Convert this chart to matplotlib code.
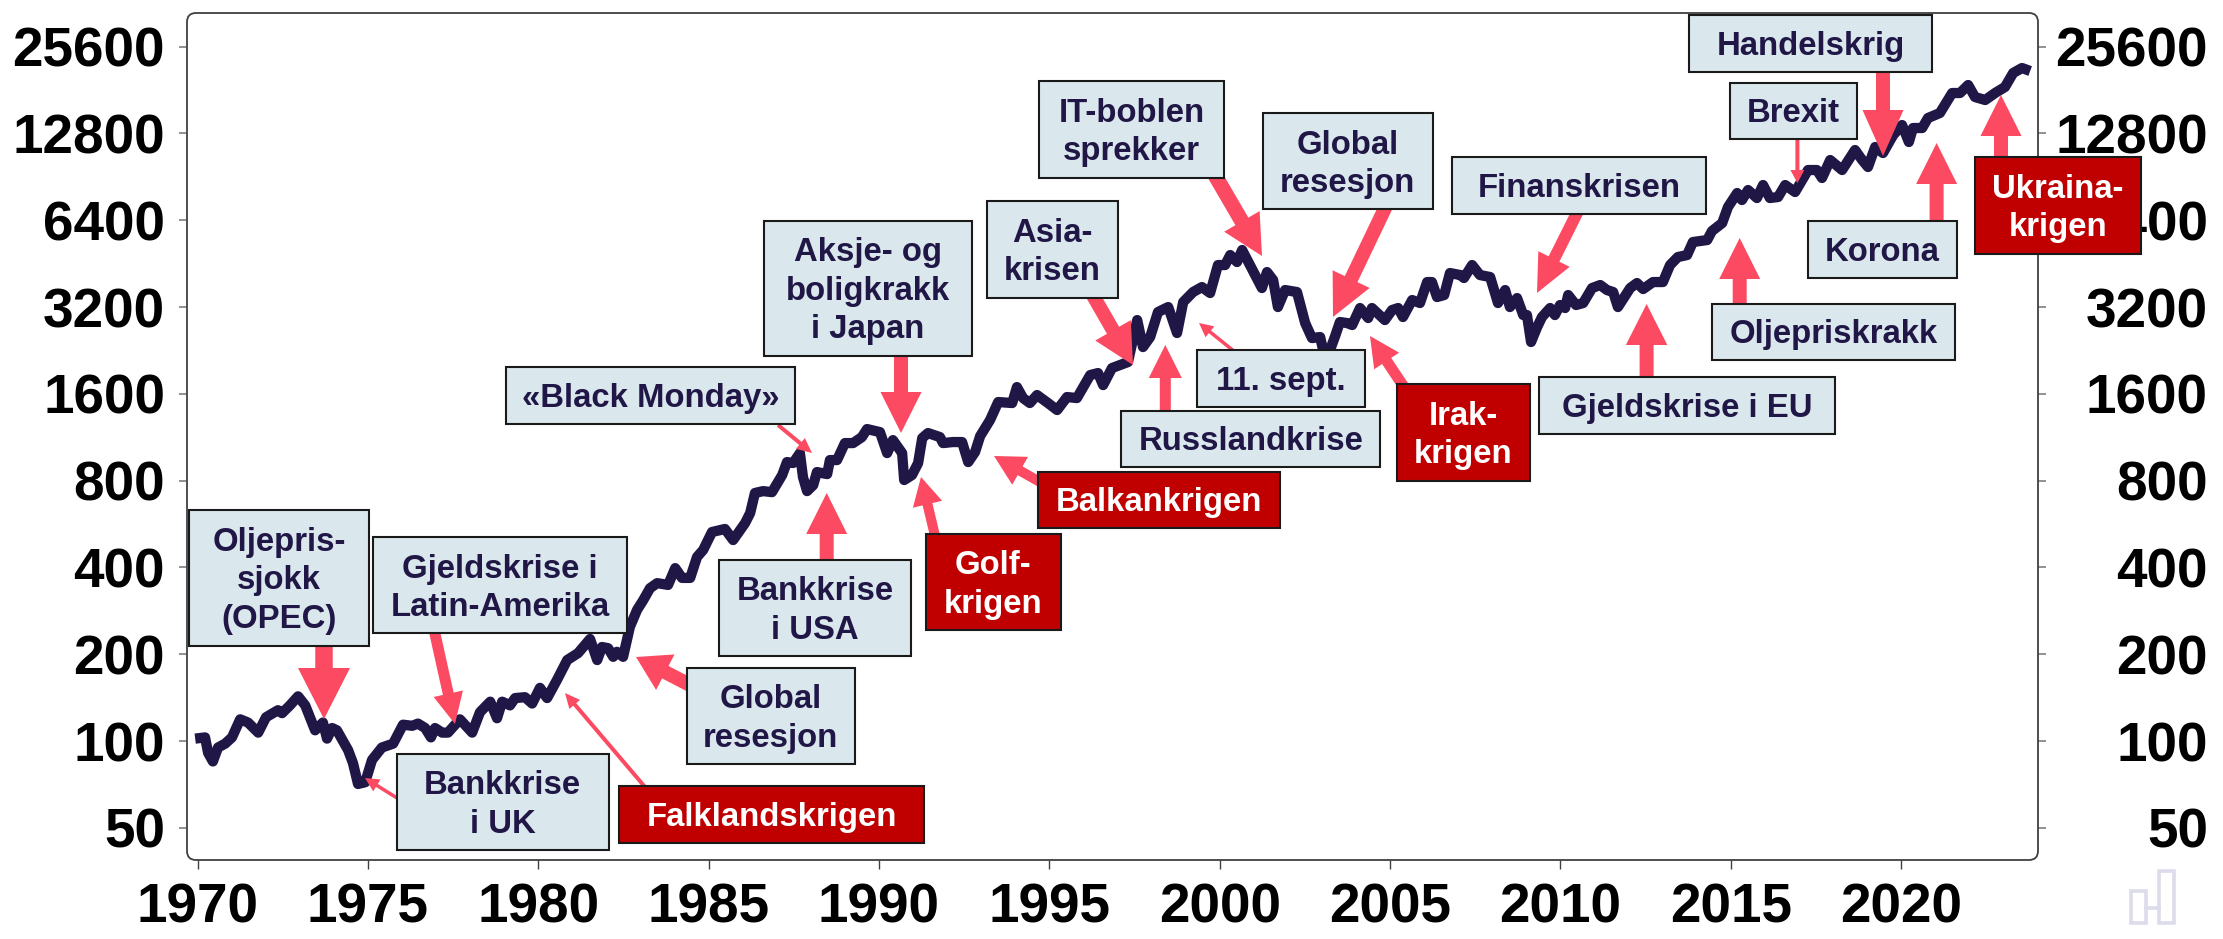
import matplotlib
matplotlib.use("Agg")
from matplotlib import pyplot as plt
from matplotlib.patches import FancyArrow, FancyBboxPatch, Rectangle

plt.rcParams["font.family"] = ["Liberation Sans", "DejaVu Sans"]
plt.rcParams["font.weight"] = "bold"

#index values, log scale base 2
years = [1969.93, 1970.22, 1970.31, 1970.45, 1970.60, 1970.81, 1971.01, 1971.25, 1971.48, 1971.78,
         1972.01, 1972.36, 1972.48, 1972.71, 1972.95, 1973.16, 1973.45, 1973.68, 1973.80, 1973.95,
         1974.09, 1974.42, 1974.56, 1974.71, 1974.92, 1975.12, 1975.41, 1975.74, 1976.03, 1976.30,
         1976.47, 1976.68, 1976.85, 1976.97, 1977.18, 1977.35, 1977.70, 1978.06, 1978.29, 1978.59,
         1978.79, 1978.94, 1979.17, 1979.32, 1979.61, 1979.82, 1980.05, 1980.26, 1980.55, 1980.85,
         1981.17, 1981.52, 1981.73, 1981.87, 1982.05, 1982.20, 1982.31, 1982.49, 1982.69, 1982.90,
         1983.08, 1983.28, 1983.49, 1983.81, 1984.02, 1984.22, 1984.46, 1984.66, 1984.84, 1985.10,
         1985.48, 1985.72, 1986.07, 1986.22, 1986.36, 1986.60, 1986.86, 1987.16, 1987.30, 1987.48,
         1987.68, 1987.77, 1987.89, 1988.07, 1988.18, 1988.48, 1988.56, 1988.77, 1989.00, 1989.24,
         1989.50, 1989.65, 1990.03, 1990.24, 1990.41, 1990.68, 1990.74, 1990.97, 1991.15, 1991.27,
         1991.44, 1991.79, 1991.88, 1992.17, 1992.44, 1992.62, 1992.82, 1992.97, 1993.26, 1993.50,
         1993.91, 1994.05, 1994.23, 1994.43, 1994.64, 1994.96, 1995.23, 1995.52, 1995.81, 1996.20,
         1996.43, 1996.58, 1996.84, 1997.31, 1997.58, 1997.75, 1997.96, 1998.19, 1998.49, 1998.75,
         1998.93, 1999.22, 1999.48, 1999.72, 1999.95, 2000.16, 2000.31, 2000.51, 2000.66, 2000.89,
         2001.24, 2001.39, 2001.57, 2001.71, 2001.92, 2002.27, 2002.51, 2002.71, 2002.95, 2003.09,
         2003.24, 2003.39, 2003.53, 2003.74, 2003.89, 2004.12, 2004.36, 2004.47, 2004.85, 2005.06,
         2005.24, 2005.38, 2005.65, 2005.88, 2006.09, 2006.23, 2006.38, 2006.59, 2006.76, 2007.06,
         2007.17, 2007.41, 2007.64, 2007.94, 2008.17, 2008.38, 2008.52, 2008.73, 2008.91, 2009.02,
         2009.14, 2009.32, 2009.46, 2009.70, 2009.84, 2009.99, 2010.14, 2010.23, 2010.46, 2010.67,
         2010.93, 2011.17, 2011.37, 2011.55, 2011.69, 2012.05, 2012.25, 2012.43, 2012.72, 2013.01,
         2013.22, 2013.45, 2013.72, 2013.89, 2014.31, 2014.45, 2014.75, 2014.92, 2015.19, 2015.33,
         2015.51, 2015.77, 2015.95, 2016.15, 2016.39, 2016.60, 2016.89, 2017.27, 2017.53, 2017.68,
         2017.92, 2018.27, 2018.65, 2018.86, 2019.03, 2019.24, 2019.47, 2019.77, 2020.03, 2020.23,
         2020.35, 2020.62, 2020.79, 2021.14, 2021.50, 2021.73, 2021.97, 2022.17, 2022.47, 2022.76,
         2023.05, 2023.29, 2023.55, 2023.79]
index_values = [102, 103, 91, 85, 95, 98, 103, 119, 116, 107, 121, 128, 125, 133, 143, 133, 109, 116, 102, 111, 109, 93, 84, 71,
                72, 86, 95, 98, 114, 113, 115, 111, 103, 111, 107, 107, 119, 107, 126, 137, 120, 137, 133, 141, 142, 135, 153, 141,
                163, 191, 202, 226, 191, 212, 210, 196, 204, 196, 249, 285, 308, 339, 353, 348, 398, 368, 368, 435, 460, 531, 544, 498,
                570, 618, 725, 736, 730, 837, 928, 921, 997, 823, 736, 772, 857, 843, 943, 943, 1080, 1080, 1133, 1208, 1179, 997, 1106, 997,
                804, 837, 921, 1124, 1170, 1133, 1080, 1089, 1089, 928, 1005, 1142, 1298, 1499, 1487, 1689, 1547, 1487, 1585, 1487, 1406, 1560, 1547, 1859,
                1889, 1716, 1966, 2063, 2884, 2325, 2518, 3075, 3200, 2600, 3330, 3607, 3754, 3579, 4475, 4475, 4847, 4584, 5045, 4475, 3724, 4232, 3970, 3200,
                3665, 3607, 2816, 2498, 2518, 2129, 2270, 2538, 2839, 2816, 2772, 3175, 2931, 3175, 2884, 3124, 3175, 2954, 3384, 3304, 3907, 3907, 3466, 3522,
                4198, 4132, 4034, 4475, 4132, 4066, 3304, 3665, 3200, 3438, 3002, 3002, 2420, 2728, 2954, 3175, 3002, 3252, 3175, 3522, 3252, 3304, 3724, 3815,
                3665, 3607, 3200, 3724, 3876, 3695, 3907, 3907, 4475, 4770, 4847, 5377, 5464, 5871, 6258, 7111, 7953, 7520, 8145, 7641, 8477, 7641, 7703, 8477,
                8016, 9556, 9556, 8965, 10350, 9556, 11211, 10350, 9788, 11483, 10945, 12637, 13688, 11950, 13364, 13364, 14475, 15065, 17673, 17673, 18839, 17118, 16713, 17673,
                18541, 20734, 21579, 21068]
y_ticks = [50, 100, 200, 400, 800, 1600, 3200, 6400, 12800, 25600]
x_ticks = [1970, 1975, 1980, 1985, 1990, 1995, 2000, 2005, 2010, 2015, 2020]

LINE_COLOR = "#201747"
ARROW_COLOR = "#fb4a61"
BOX_COLOR = "#dae7ec"
RED_COLOR = "#c00000"
W, H = 2223, 939

fig = plt.figure(figsize=(W / 100, H / 100), dpi=100)
ax = fig.add_axes([187 / W, (H - 860) / H, (2038 - 187) / W, (860 - 13) / H])
ax.plot(years, index_values, color=LINE_COLOR, lw=7.4, solid_joinstyle="round", solid_capstyle="butt")
ax.set_yscale("log", base=2)
ax.set_xlim(1969.69, 2024.02)
ax.set_ylim(38.7, 33480)
ax.set_yticks(y_ticks)
ax.set_yticklabels([str(t) for t in y_ticks])
ax.minorticks_off()
ax.set_xticks(x_ticks)
ax.set_xticklabels([str(t) for t in x_ticks])
for s in ax.spines.values():
    s.set_visible(False)
ax.tick_params(axis="y", length=5.8, width=1.2, color="#7f7f7f", labelsize=39.5, pad=10)
ax.tick_params(axis="x", length=6.5, width=1.0, color="#404040", labelsize=39.5, pad=10)

ax2 = ax.twinx()
ax2.set_yscale("log", base=2)
ax2.set_ylim(ax.get_ylim())
ax2.set_yticks(y_ticks)
ax2.set_yticklabels([str(t) for t in y_ticks], ha="right")
ax2.minorticks_off()
for s in ax2.spines.values():
    s.set_visible(False)
ax2.tick_params(axis="y", length=5.8, width=1.2, color="#7f7f7f", labelsize=39.5, pad=116.5)

#overlay in picture pixels for the frame, arrows and boxes
canvas = fig.add_axes([0, 0, 1, 1], zorder=5)
canvas.set_xlim(0, W)
canvas.set_ylim(H, 0)
canvas.axis("off")
canvas.patch.set_alpha(0)
canvas.add_patch(FancyBboxPatch((195, 21), 1835, 831, boxstyle="round,pad=8,rounding_size=9", fc="none", ec="#404040", lw=1.3, zorder=1))


def arrow(tail, tip, shaft, head_w, head_l):
    canvas.add_patch(FancyArrow(tail[0], tail[1], tip[0] - tail[0], tip[1] - tail[1], width=shaft,
                                head_width=head_w, head_length=head_l, length_includes_head=True,
                                fc=ARROW_COLOR, ec="none", zorder=2))


def box(x0, y0, x1, y1, label, red=False):
    canvas.add_patch(Rectangle((x0, y0), x1 - x0, y1 - y0, fc=RED_COLOR if red else BOX_COLOR,
                               ec="#1a1a1a", lw=1.5, zorder=3))
    canvas.text((x0 + x1) / 2, (y0 + y1) / 2 + 3, label, color="white" if red else LINE_COLOR, fontsize=23.7,
                ha="center", va="center", multialignment="center", linespacing=1.31, zorder=4)


arrow((324, 640), (324, 719), 17.5, 52, 51)
arrow((433, 625), (455, 724), 11, 30, 31)
arrow((397, 798), (365, 778), 3.5, 14, 14)
arrow((645, 787), (565, 693), 4, 14, 15)
arrow((690, 685), (636, 657), 14, 40, 33)
arrow((826.7, 565), (826.7, 493), 14, 41, 41)
arrow((778, 425), (812, 453), 4, 14, 15)
arrow((936, 540), (921, 477), 10, 30, 28)
arrow((1040, 482), (994, 456), 10, 32, 30)
arrow((901, 350), (901, 433), 14, 41, 41)
arrow((1091, 292), (1133, 365), 14, 41, 40)
arrow((1165.3, 415), (1165.3, 345), 11, 33, 33)
arrow((1235, 352), (1199, 323), 3.5, 14, 14)
arrow((1212, 170), (1262, 256), 15, 41, 40)
arrow((1388, 202), (1333, 317), 14, 41, 42)
arrow((1406, 390), (1370, 336), 11, 30, 30)
arrow((1580, 207), (1537, 293), 12, 35, 38)
arrow((1646.6, 382), (1646.6, 304), 14, 41.5, 41)
arrow((1739.7, 308), (1739.7, 238), 14, 41, 41)
arrow((1936.6, 226), (1936.6, 143), 14, 41, 41)
arrow((2001, 162), (2001, 95), 14, 41, 41)
arrow((1883, 66), (1883, 156), 14, 41, 46)
arrow((1797.4, 135), (1797.4, 183), 4, 14, 13)

box(189.4, 510, 368.5, 646, "Oljepris-\nsjokk\n(OPEC)")
box(373, 537.3, 627, 633.3, "Gjeldskrise i\nLatin-Amerika")
box(397, 754, 608.5, 850, "Bankkrise\ni UK")
box(686.5, 668, 855, 764, "Global\nresesjon")
box(619, 786, 924, 842.7, "Falklandskrigen", red=True)
box(719, 560, 910.7, 656, "Bankkrise\ni USA")
box(925.7, 534.3, 1060.5, 630, "Golf-\nkrigen", red=True)
box(506, 367, 795, 424.3, "«Black Monday»")
box(764, 220.7, 972, 356, "Aksje- og\nboligkrakk\ni Japan")
box(987, 201, 1118, 297.7, "Asia-\nkrisen")
box(1038.8, 81, 1224, 177.7, "IT-boblen\nsprekker")
box(1263, 113.3, 1432.7, 209.3, "Global\nresesjon")
box(1452, 157.3, 1706, 214, "Finanskrisen")
box(1197, 350, 1365, 406.7, "11. sept.")
box(1121.4, 410.7, 1380, 466.7, "Russlandkrise")
box(1038, 471.7, 1279.6, 528, "Balkankrigen", red=True)
box(1397, 384, 1529.6, 480.7, "Irak-\nkrigen", red=True)
box(1539, 377, 1835, 434, "Gjeldskrise i EU")
box(1712, 303.7, 1955, 360, "Oljepriskrakk")
box(1808, 221, 1957, 277.7, "Korona")
box(1975, 157, 2141, 253.7, "Ukraina-\nkrigen", red=True)
box(1729.6, 82.7, 1857, 139.3, "Brexit")
box(1689, 15.3, 1932, 71.7, "Handelskrig")

#logo in the bottom right corner
for x0, y0, x1 in [(2131, 891, 2146), (2159, 871, 2174)]:
    canvas.add_patch(Rectangle((x0, y0), x1 - x0, 923 - y0, fc="none", ec="#dcdcea", lw=2.6))
canvas.plot([2146, 2159], [908, 908], color="#dcdcea", lw=2.6)

fig.savefig("out.png", dpi=100)
